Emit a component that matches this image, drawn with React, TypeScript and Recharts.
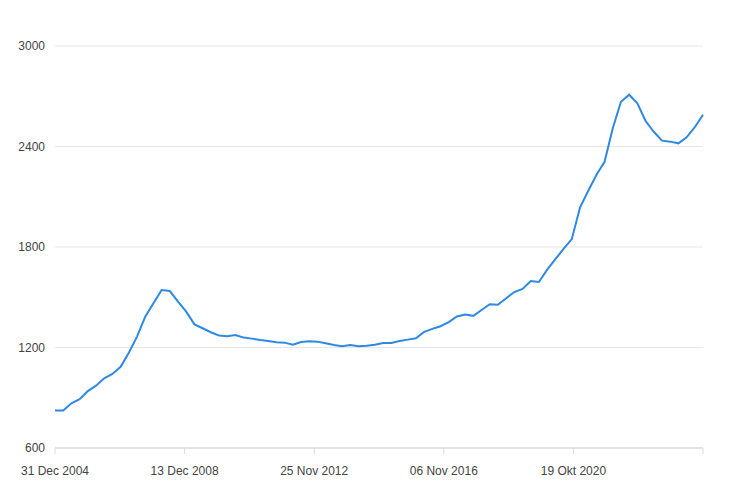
import { LineChart, Line, XAxis, YAxis, CartesianGrid } from 'recharts';

// quarterly values, Dec 2004 .. Sep 2024
const values = [
  824, 824, 867, 891, 940, 972, 1016, 1042, 1085, 1169,
  1265, 1384, 1464, 1543, 1537, 1474, 1414, 1338, 1315, 1291,
  1271, 1267, 1275, 1259, 1253, 1245, 1239, 1231, 1229, 1217,
  1233, 1237, 1235, 1225, 1215, 1207, 1215, 1207, 1211, 1217,
  1227, 1227, 1239, 1247, 1255, 1293, 1311, 1327, 1352, 1385,
  1397, 1389, 1424, 1458, 1455, 1494, 1531, 1550, 1597, 1591,
  1665, 1727, 1789, 1847, 2035, 2134, 2230, 2309, 2509, 2667,
  2709, 2658, 2552, 2488, 2435, 2429, 2419, 2455, 2515, 2590,
];

const tickPositions = [0, 15.8, 31.6, 47.4, 63.2, 79];
const tickLabels = ['31 Dec 2004', '13 Dec 2008', '25 Nov 2012', '06 Nov 2016', '19 Okt 2020', ''];
const yTicks = [600, 1200, 1800, 2400, 3000];

const data = values.map((v, i) => ({ i, value: v }));

export default function App() {
  const tickStyle = { fontSize: 12, fill: '#444', fontFamily: '"Liberation Sans", Arial, sans-serif' };
  return (
    <div style={{ position: 'absolute', left: 0, top: 0, background: '#fff' }}>
      <LineChart width={733} height={496} data={data} margin={{ top: 46, right: 30, bottom: 18, left: 0 }}>
        <CartesianGrid vertical={false} stroke="#e6e6e6" />
        <XAxis
          dataKey="i"
          type="number"
          domain={[0, 79]}
          ticks={tickPositions}
          interval={0}
          tickFormatter={(v) => tickLabels[tickPositions.indexOf(v)] ?? ''}
          tick={tickStyle}
          axisLine={{ stroke: '#e3e3e3', strokeWidth: 2 }}
          tickLine={{ stroke: '#dcdcdc' }}
          tickSize={6}
          tickMargin={12}
          height={30}
        />
        <YAxis
          domain={[600, 3000]}
          ticks={yTicks}
          interval={0}
          width={55}
          axisLine={false}
          tickLine={false}
          tickMargin={4}
          tick={tickStyle}
        />
        <Line
          type="linear"
          dataKey="value"
          stroke="#2e89e4"
          strokeWidth={2}
          dot={false}
          isAnimationActive={false}
        />
      </LineChart>
    </div>
  );
}
